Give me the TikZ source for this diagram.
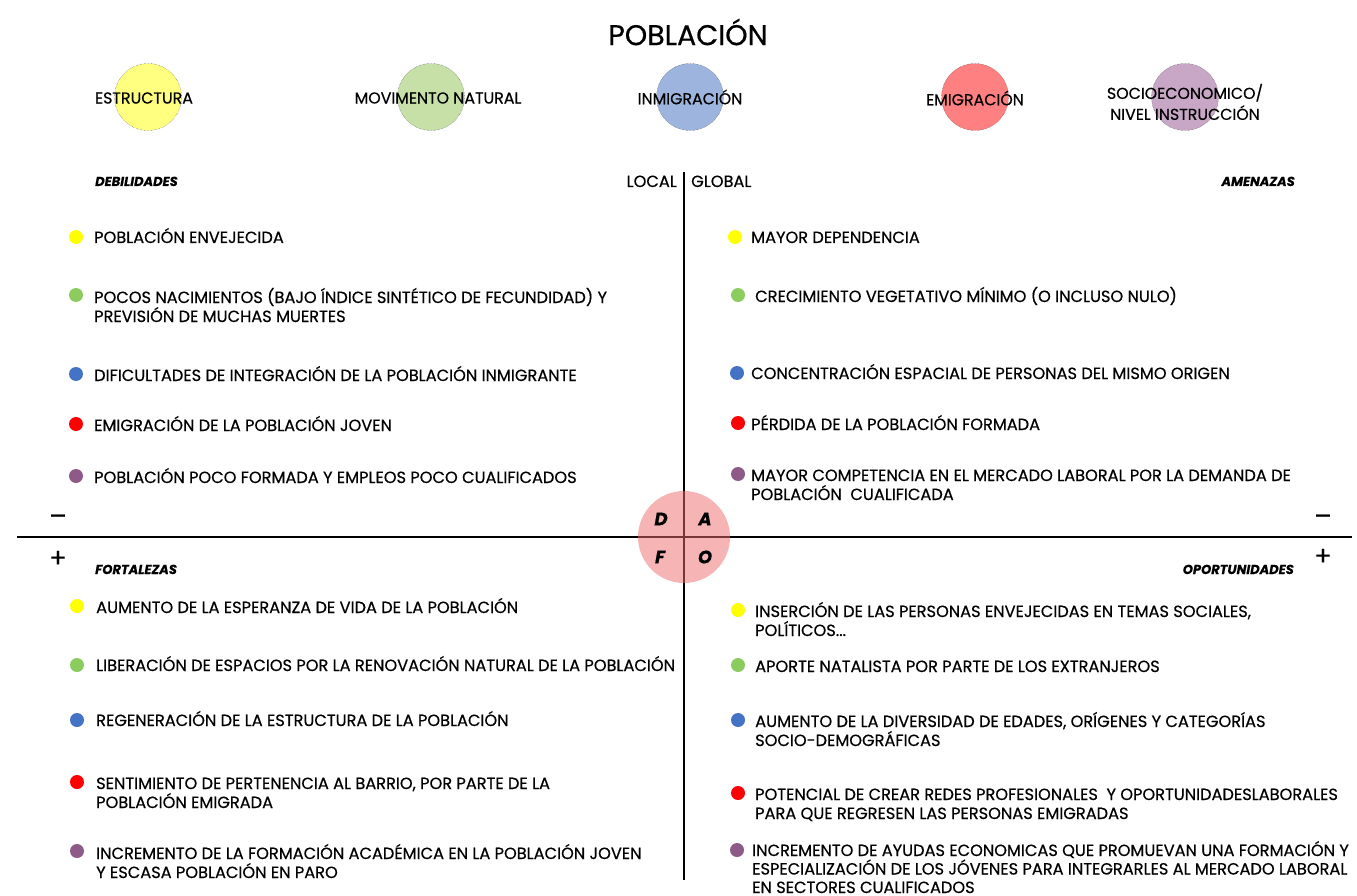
\documentclass[tikz,border=0pt]{standalone}
\usepackage{fontspec}
\setmainfont{Poppins}[FakeBold=0.5]
\usetikzlibrary{positioning,calc}
\definecolor{dotyellow}{HTML}{FFFF00}
\definecolor{dotgreen}{HTML}{8CCB5E}
\definecolor{dotblue}{HTML}{4472C4}
\definecolor{dotred}{HTML}{FF0000}
\definecolor{dotpurple}{HTML}{8E5A88}
\definecolor{softyellow}{HTML}{FFFF80}
\definecolor{softgreen}{HTML}{C6E0A8}
\definecolor{softblue}{HTML}{9CB4DE}
\definecolor{softred}{HTML}{FF8080}
\definecolor{softpurple}{HTML}{C8A6C6}
\definecolor{dafo}{HTML}{F06A6A}

\begin{document}
\begin{tikzpicture}[
    x=1pt, y=-1pt,
    item/.style={anchor=base west, align=left, inner sep=0pt, font=\fontsize{16.2}{19}\selectfont},
    dot/.style={circle, minimum size=14pt, inner sep=0pt},
    legend/.style={circle, minimum size=67pt, inner sep=0pt, draw=black!70, densely dotted, thin},
    tag/.style={align=center, inner sep=0pt, font=\fontsize{15.8}{21}\selectfont},
    head/.style={inner sep=0pt, font=\fontsize{13}{14}\selectfont\bfseries\itshape},
    sign/.style={inner sep=0pt, font=\fontsize{26}{26}\selectfont},
    letter/.style={inner sep=0pt, font=\fontsize{18}{18}\selectfont\bfseries\itshape}
  ]
  \useasboundingbox (0,0) rectangle (1357,896);

  % title and legend
  \node[inner sep=0pt, font=\fontsize{28.5}{28}\selectfont] (title) at (688,32) {POBLACIÓN};
  \node[legend, fill=softyellow] (estr) at (148,97) {};
  \node[legend, fill=softgreen] (movn) at (431,97) {};
  \node[legend, fill=softblue] (inmi) at (690,97) {};
  \node[legend, fill=softred] (emig) at (975,97) {};
  \node[legend, fill=softpurple] (soci) at (1185,97) {};
  \node[tag] at (144,98) {ESTRUCTURA};
  \node[tag] at (438,98) {MOVIMENTO NATURAL};
  \node[tag] at (690,97) {INMIGRACIÓN};
  \node[tag] at (975,98) {EMIGRACIÓN};
  \node[tag] at (1185,102) {SOCIOECONOMICO/\\NIVEL INSTRUCCIÓN};

  % axes
  \coordinate (top) at (684,172);
  \coordinate (bottom) at (684,880);
  \coordinate (left) at (17,537);
  \coordinate (right) at (1352,537);
  \draw[line width=1.6pt] (top) -- (bottom);
  \draw[line width=1.6pt] (left) -- (right);
  \node[item, anchor=base east] (local) at (677,187) {LOCAL};
  \node[item] (global) at (691,187) {GLOBAL};
  \node[head, anchor=base west] (debil) at (95,186) {DEBILIDADES};
  \node[head, anchor=base east] (amen) at (1295,186) {AMENAZAS};
  \node[head, anchor=base west] (fort) at (95,574) {FORTALEZAS};
  \node[head, anchor=base east] (oport) at (1294,574) {OPORTUNIDADES};
  \node[sign] (minl) at (58,520) {–};
  \node[sign] (minr) at (1323,520) {–};
  \node[sign] (plusl) at (58,559) {+};
  \node[sign] (plusr) at (1323,557) {+};

  % debilidades
  \node[dot, fill=dotyellow] (d1dot) at (76,237) {};
  \node[item] (d1) at (94,243) {POBLACIÓN ENVEJECIDA};
  \node[dot, fill=dotgreen] (d2dot) at (76,295) {};
  \node[item] (d2) at (94,322) {POCOS NACIMIENTOS (BAJO ÍNDICE SINTÉTICO DE FECUNDIDAD) Y\\PREVISIÓN DE MUCHAS MUERTES};
  \node[dot, fill=dotblue] (d3dot) at (76,374) {};
  \node[item] (d3) at (94,381) {DIFICULTADES DE INTEGRACIÓN DE LA POBLACIÓN INMIGRANTE};
  \node[dot, fill=dotred] (d4dot) at (76,424) {};
  \node[item] (d4) at (94,431) {EMIGRACIÓN DE LA POBLACIÓN JOVEN};
  \node[dot, fill=dotpurple] (d5dot) at (76,476) {};
  \node[item] (d5) at (94,483) {POBLACIÓN POCO FORMADA Y EMPLEOS POCO CUALIFICADOS};

  % amenazas
  \node[dot, fill=dotyellow] (a1dot) at (735,237) {};
  \node[item] (a1) at (751,243) {MAYOR DEPENDENCIA};
  \node[dot, fill=dotgreen] (a2dot) at (738,295) {};
  \node[item] (a2) at (755,302) {CRECIMIENTO VEGETATIVO MÍNIMO (O INCLUSO NULO)};
  \node[dot, fill=dotblue] (a3dot) at (737,373) {};
  \node[item] (a3) at (751,379) {CONCENTRACIÓN ESPACIAL DE PERSONAS DEL MISMO ORIGEN};
  \node[dot, fill=dotred] (a4dot) at (738,423) {};
  \node[item] (a4) at (751,430) {PÉRDIDA DE LA POBLACIÓN FORMADA};
  \node[dot, fill=dotpurple] (a5dot) at (738,474) {};
  \node[item] (a5) at (751,500) {MAYOR COMPETENCIA EN EL MERCADO LABORAL POR LA DEMANDA DE\\POBLACIÓN\ \ CUALIFICADA};

  % fortalezas
  \node[dot, fill=dotyellow] (f1dot) at (77,606) {};
  \node[item] (f1) at (96,613) {AUMENTO DE LA ESPERANZA DE VIDA DE LA POBLACIÓN};
  \node[dot, fill=dotgreen] (f2dot) at (77,665) {};
  \node[item] (f2) at (96,671) {LIBERACIÓN DE ESPACIOS POR LA RENOVACIÓN NATURAL DE LA POBLACIÓN};
  \node[dot, fill=dotblue] (f3dot) at (77,720) {};
  \node[item] (f3) at (96,726) {REGENERACIÓN DE LA ESTRUCTURA DE LA POBLACIÓN};
  \node[dot, fill=dotred] (f4dot) at (77,782) {};
  \node[item] (f4) at (96,808) {SENTIMIENTO DE PERTENENCIA AL BARRIO, POR PARTE DE LA\\POBLACIÓN EMIGRADA};
  \node[dot, fill=dotpurple] (f5dot) at (77,851) {};
  \node[item] (f5) at (96,878) {INCREMENTO DE LA FORMACIÓN ACADÉMICA EN LA POBLACIÓN JOVEN\\Y ESCASA POBLACIÓN EN PARO};

  % oportunidades
  \node[dot, fill=dotyellow] (o1dot) at (738,610) {};
  \node[item] (o1) at (755,636) {INSERCIÓN DE LAS PERSONAS ENVEJECIDAS EN TEMAS SOCIALES,\\POLÍTICOS...};
  \node[dot, fill=dotgreen] (o2dot) at (738,665) {};
  \node[item] (o2) at (755,672) {APORTE NATALISTA POR PARTE DE LOS EXTRANJEROS};
  \node[dot, fill=dotblue] (o3dot) at (738,720) {};
  \node[item] (o3) at (755,746) {AUMENTO DE LA DIVERSIDAD DE EDADES, ORÍGENES Y CATEGORÍAS\\SOCIO-DEMOGRÁFICAS};
  \node[dot, fill=dotred] (o4dot) at (738,793) {};
  \node[item] (o4) at (755,819) {POTENCIAL DE CREAR REDES PROFESIONALES\ \ Y OPORTUNIDADESLABORALES\\PARA QUE REGRESEN LAS PERSONAS EMIGRADAS};
  \node[dot, fill=dotpurple] (o5dot) at (737,850) {};
  \node[item, font=\fontsize{16.2}{18.5}\selectfont] (o5) at (752,893) {INCREMENTO DE AYUDAS ECONOMICAS QUE PROMUEVAN UNA FORMACIÓN Y\\ESPECIALIZACIÓN DE LOS JÓVENES PARA INTEGRARLES AL MERCADO LABORAL\\EN SECTORES CUALIFICADOS};

  % DAFO
  \node[circle, minimum size=92pt, inner sep=0pt, fill=dafo, fill opacity=0.5] (dafoc) at (684,537) {};
  \node[letter] (ld) at ($(dafoc)+(-23,-18)$) {D};
  \node[letter] (la) at ($(dafoc)+(21,-18)$) {A};
  \node[letter] (lf) at ($(dafoc)+(-24,20)$) {F};
  \node[letter] (lo) at ($(dafoc)+(21,20)$) {O};
\end{tikzpicture}
\end{document}
